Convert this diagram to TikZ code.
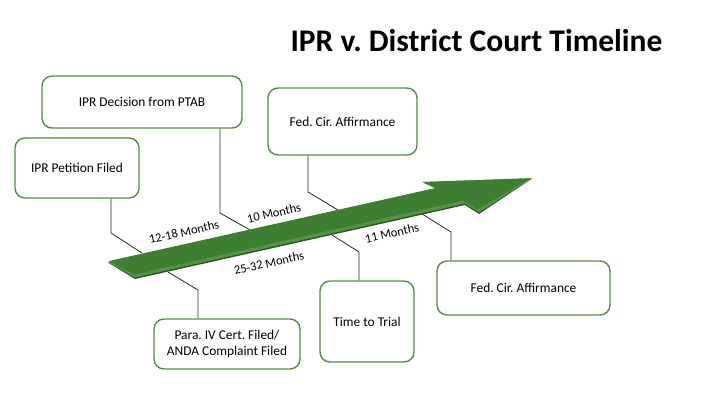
\documentclass[tikz,border=0pt]{standalone}
\usepackage{fontspec}
\setmainfont{Carlito}
\frenchspacing
\definecolor{boxgreen}{RGB}{88,140,70}
\definecolor{arrowtop}{RGB}{62,126,50}
\definecolor{arrowbevel}{RGB}{80,150,66}
\definecolor{arrowdark}{RGB}{40,85,32}
\definecolor{conncol}{RGB}{40,40,40}
\tikzset{
  box/.style={draw=boxgreen, line width=1.4pt, rounded corners=10pt, fill=white,
    align=center, inner sep=2pt, font=\fontsize{13.4}{16}\selectfont},
  conn/.style={draw=conncol, line width=0.8pt},
  months/.style={rotate=12.6, font=\fontsize{12.5}{14}\selectfont, inner sep=0pt}
}
\begin{document}
\begin{tikzpicture}[x=1pt,y=-1pt]
\useasboundingbox (0,0) rectangle (720,405);
\fill[white] (0,0) rectangle (720,405);

% title
\node[anchor=base, font=\bfseries\fontsize{31.5}{36}\selectfont] (title) at (476.5,51.7) {IPR v. District Court Timeline};

% boxes
\node[box, minimum width=200pt, minimum height=52pt] (ptab) at (142,102) {IPR Decision from PTAB};
\node[box, minimum width=124pt, minimum height=60pt] (petition) at (77,168) {IPR Petition Filed};
\node[box, minimum width=149pt, minimum height=67pt] (fedtop) at (342.5,121.5) {Fed. Cir. Affirmance};
\node[box, minimum width=173pt, minimum height=54pt] (fedbot) at (523.5,288) {Fed. Cir. Affirmance};
\node[box, minimum width=94pt, minimum height=81pt] (trial) at (367,321.5) {Time to Trial};
\node[box, minimum width=146pt, minimum height=50pt] (para) at (227,344) {Para. IV Cert. Filed/\\ANDA Complaint Filed};

% connector points
\coordinate (b1) at (111,233); \coordinate (e1) at (142,253);
\coordinate (b2) at (220,213); \coordinate (e2) at (250,230);
\coordinate (b3) at (308,192); \coordinate (e3) at (338,210);
\coordinate (b4) at (451,232); \coordinate (e4) at (422,214);
\coordinate (b5) at (359,252); \coordinate (e5) at (332,235);
\coordinate (b6) at (198,290); \coordinate (e6) at (168,272);

\draw[conn] (b1 |- petition.south) -- (b1) -- (e1);
\draw[conn] (b2 |- ptab.south) -- (b2) -- (e2);
\draw[conn] (b3 |- fedtop.south) -- (b3) -- (e3);
\draw[conn] (b4 |- fedbot.north) -- (b4) -- (e4);
\draw[conn] (b5 |- trial.north) -- (b5) -- (e5);
\draw[conn] (b6 |- para.north) -- (b6) -- (e6);

% arrow
\fill[arrowdark] (108,262.5) -- (436,188.5) -- (423,182.5) -- (532,178.5) -- (479,214) -- (465,205) -- (135,279) -- cycle;
\fill[arrowbevel] (108,262) -- (436,188) -- (423,182) -- (532,178) -- (479,212.5) -- (465,203.5) -- (135,277.5) -- cycle;
\fill[arrowtop] (109,261) -- (436,188) -- (423,182) -- (529,178.6) -- (477.5,209.5) -- (463.5,200.5) -- (134,274.5) -- cycle;

% month labels
\node[months] (m1) at (184,232) {12-18 Months};
\node[months] (m2) at (274,213) {10 Months};
\node[months] (m3) at (269,263) {25-32 Months};
\node[months] (m4) at (392,233) {11 Months};
\end{tikzpicture}
\end{document}
